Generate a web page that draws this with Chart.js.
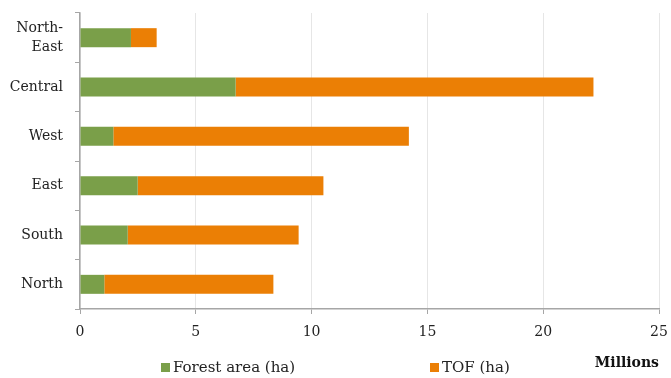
<!DOCTYPE html>
<html>
<head>
<meta charset="utf-8">
<script src="https://cdn.jsdelivr.net/npm/chart.js@4"></script>
<style>
  html, body { margin: 0; padding: 0; background: #fff; }
  #wrap { width: 671px; height: 378px; position: relative; }
</style>
</head>
<body>
<div id="wrap"><canvas id="regionChart"></canvas></div>
<script>
// values in millions of ha
const regions = [['North-', 'East'], 'Central', 'West', 'East', 'South', 'North'];
const forestArea = [2.20, 6.72, 1.44, 2.49, 2.06, 1.05];
const tofArea = [1.11, 15.45, 12.76, 8.02, 7.38, 7.30];
const xTicks = [0, 5, 10, 15, 20, 25];

const seriesNames = ['Forest area (ha)', 'TOF (ha)'];
const seriesColors = ['#7A9F49', '#EB7F05'];
const FONT = 'DejaVu Serif';

// legend sits beside the axis title in the original, so draw it ourselves
const bottomLegend = {
    id: 'bottomLegend',
    afterDraw(chart) {
        const ctx = chart.ctx;
        const spots = [161, 430];
        ctx.save();
        ctx.font = '15px "' + FONT + '"';
        ctx.textBaseline = 'middle';
        chart.data.datasets.forEach((ds, i) => {
            const x = spots[i];
            ctx.fillStyle = ds.backgroundColor;
            ctx.fillRect(x, 363, 9, 9);
            ctx.fillStyle = '#222';
            ctx.fillText(ds.label, x + 12, 368);
        });
        ctx.restore();
    }
};

const ctx = document.getElementById('regionChart').getContext('2d');
new Chart(ctx, {
    type: 'bar',
    data: {
        labels: regions,
        datasets: [
            { label: seriesNames[0], data: forestArea, backgroundColor: seriesColors[0] },
            { label: seriesNames[1], data: tofArea, backgroundColor: seriesColors[1] }
        ]
    },
    options: {
        indexAxis: 'y',
        responsive: true,
        maintainAspectRatio: false,
        animation: false,
        layout: { padding: { top: 13, right: 12, bottom: 0, left: 0 } },
        datasets: { bar: { categoryPercentage: 1, barPercentage: 0.385 } },
        scales: {
            x: {
                stacked: true, min: 0, max: 25,
                afterBuildTicks: s => { s.ticks = xTicks.map(v => ({ value: v })); },
                afterFit: s => { s.height = 69; s.paddingRight = 0; s.paddingLeft = 0; },
                grid: { color: '#e6e6e6', tickColor: '#a6a6a6', tickLength: 5, lineWidth: 1 },
                border: { color: '#a6a6a6', width: 1.5 },
                ticks: { padding: 10, color: '#222', font: { family: FONT, size: 14 } },
                title: {
                    display: true, text: 'Millions', align: 'end', color: '#111',
                    font: { family: FONT, size: 14, weight: 'bold' },
                    padding: { top: 14, bottom: 6 }
                }
            },
            y: {
                stacked: true,
                afterFit: s => { s.width = 80; s.paddingTop = 0; s.paddingBottom = 0; },
                grid: { drawOnChartArea: false, tickColor: '#a6a6a6', tickLength: 5, offset: true },
                border: { color: '#a6a6a6', width: 1.5 },
                ticks: { padding: 12, color: '#222', font: { family: FONT, size: 14, lineHeight: 1.4 } }
            }
        },
        plugins: {
            legend: { display: false },
            tooltip: { enabled: false }
        }
    },
    plugins: [bottomLegend]
});
</script>
</body>
</html>
